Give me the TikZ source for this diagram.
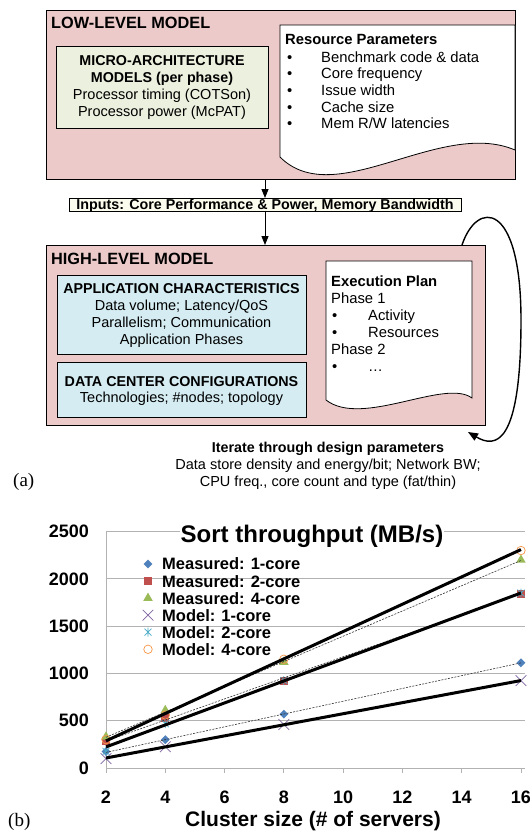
\documentclass[tikz,border=0pt]{standalone}
\usepackage{fontspec}
\setmainfont{Liberation Sans}
\newfontfamily\serifa{Liberation Serif}
\usetikzlibrary{arrows.meta,shapes.geometric,shapes.misc}
\definecolor{pinkbg}{RGB}{236,202,202}
\definecolor{greenbg}{RGB}{236,240,222}
\definecolor{bluebg}{RGB}{212,236,242}
\definecolor{inpbg}{RGB}{252,252,238}
\definecolor{gridc}{RGB}{178,178,178}
\definecolor{cma}{RGB}{79,129,189}
\definecolor{cmb}{RGB}{192,80,77}
\definecolor{cmc}{RGB}{155,187,89}
\definecolor{cxa}{RGB}{128,100,162}
\definecolor{cxb}{RGB}{75,172,198}
\definecolor{cxc}{RGB}{247,150,70}
\tikzset{
  box/.style={draw=black, line width=0.8pt, inner sep=0pt, outer sep=0pt, anchor=north west},
  tx/.style={font=\fontsize{14.5}{17}\selectfont, inner sep=0pt, anchor=base},
  txl/.style={font=\fontsize{14.8}{17}\selectfont, inner sep=0pt, anchor=base west},
  bx/.style={font=\bfseries\fontsize{14.3}{17}\selectfont},
  arr/.style={line width=0.9pt, -{Triangle[length=9pt,width=7pt]}},
  looparr/.style={line width=1.4pt, -{Triangle[length=10pt,width=8pt]}},
  mka/.style={diamond, fill=cma, minimum size=9pt, inner sep=0pt},
  mkb/.style={rectangle, fill=cmb, minimum size=8pt, inner sep=0pt},
  mkc/.style={regular polygon, regular polygon sides=3, fill=cmc, minimum size=11pt, inner sep=0pt},
  mxa/.style={cross out, draw=cxa, line width=0.7pt, minimum size=10pt, inner sep=0pt},
  mxc/.style={circle, draw=cxc, line width=0.7pt, minimum size=8.5pt, inner sep=0pt},
  asterisk/.pic={\draw[cxb, line width=0.7pt] (-3.5pt,-3.5pt)--(3.5pt,3.5pt) (-3.5pt,3.5pt)--(3.5pt,-3.5pt) (0pt,-4.5pt)--(0pt,4.5pt);},
  thick line/.style={line width=3pt, black},
  trend/.style={line width=0.6pt, black!80, dash pattern=on 2pt off 1.3pt},
  tick lab/.style={font=\bfseries\fontsize{18}{20}\selectfont, inner sep=0pt},
  leg/.style={font=\bfseries\fontsize{16.5}{18}\selectfont, inner sep=0pt, anchor=west}
}
\begin{document}
\begin{tikzpicture}[x=1pt, y=-1pt]
\useasboundingbox (0,0) rectangle (530,831);
\fill[white] (0,0) rectangle (530,831);

% ---------------- LOW-LEVEL MODEL ----------------
\node[box, fill=pinkbg, minimum width=469pt, minimum height=169pt] (low) at (46,10) {};
\node[anchor=west, inner sep=0pt, font=\bfseries\fontsize{16.3}{18}\selectfont] (lowt) at (51,23) {LOW-LEVEL MODEL};
\node[box, fill=greenbg, minimum width=212pt, minimum height=82pt] (micro) at (56,46) {};
\node[tx, bx] (mi1) at (162,65) {MICRO-ARCHITECTURE};
\node[tx, bx] (mi2) at (162,82) {MODELS (per phase)};
\node[tx] (mi3) at (162,99.5) {Processor timing (COTSon)};
\node[tx] (mi4) at (162,116) {Processor power (McPAT)};

\draw[fill=white, line width=0.8pt] (280,25) -- (515,25) -- (515,150)
  .. controls (440,118) and (335,212) .. (280,157) -- cycle;
\node[txl, font=\bfseries\fontsize{14.8}{17}\selectfont] (rp) at (285,44) {Resource Parameters};
\foreach \t [count=\i] in {Benchmark code \& data, Core frequency, Issue width, Cache size, Mem R/W latencies}{
  \node[txl] (rb\i) at (287,45.3+16.7*\i) {\textbullet};
  \node[txl] (rt\i) at (321,45.3+16.7*\i) {\t};
}

% ---------------- Inputs ----------------
\node[box, fill=inpbg, minimum width=392pt, minimum height=13pt] (inp) at (69,198) {};
\node[tx, bx] (inpt) at (265,209) {Inputs: Core Performance \& Power, Memory Bandwidth};

% ---------------- HIGH-LEVEL MODEL ----------------
\node[box, fill=pinkbg, minimum width=439pt, minimum height=180pt] (high) at (46,245) {};
\node[anchor=west, inner sep=0pt, font=\bfseries\fontsize{16.3}{18}\selectfont] (hight) at (51,259) {HIGH-LEVEL MODEL};
\node[box, fill=bluebg, minimum width=249pt, minimum height=79pt] (app) at (57,275.5) {};
\node[tx, bx] (ap1) at (181.5,293.5) {APPLICATION CHARACTERISTICS};
\node[tx] (ap2) at (181.5,310.5) {Data volume; Latency/QoS};
\node[tx] (ap3) at (181.5,327.5) {Parallelism; Communication};
\node[tx] (ap4) at (181.5,344.5) {Application Phases};
\node[box, fill=bluebg, minimum width=249pt, minimum height=55pt] (dc) at (57,362) {};
\node[tx, bx] (dc1) at (181.5,386) {DATA CENTER CONFIGURATIONS};
\node[tx] (dc2) at (181.5,402.5) {Technologies; \#nodes; topology};

\draw[fill=white, line width=0.8pt] (326,261) -- (472,261) -- (472,398)
  .. controls (445,378) and (362,428) .. (326,400) -- cycle;
\node[txl, font=\bfseries\fontsize{14.8}{17}\selectfont] (ep) at (331,286.5) {Execution Plan};
\node[txl] (ph1) at (331,303.5) {Phase 1};
\node[txl] (eb1) at (332,320.5) {\textbullet};
\node[txl] (et1) at (368,320.5) {Activity};
\node[txl] (eb2) at (332,337.5) {\textbullet};
\node[txl] (et2) at (368,337.5) {Resources};
\node[txl] (ph2) at (331,354.5) {Phase 2};
\node[txl] (eb3) at (332,371.5) {\textbullet};
\node[txl] (et3) at (368,371.5) {\dots};

% ---------------- connectors ----------------
\draw[arr] (inp.north |- low.south) -- (inp.north);
\draw[arr] (inp.south) -- (inp.south |- high.north);
\coordinate (ls) at (462,245);
\coordinate (le) at (468,432);
\draw[looparr] (ls) .. controls (477,200) and (521,200) .. (521,320)
  .. controls (521,447) and (495,448) .. (le);

\node[tx, bx] (it1) at (328,452.5) {Iterate through design parameters};
\node[tx] (it2) at (328,469.5) {Data store density and energy/bit; Network BW;};
\node[tx] (it3) at (328,486) {CPU freq., core count and type (fat/thin)};
\node[anchor=west, inner sep=0pt, font=\serifa\fontsize{19}{21}\selectfont] (la) at (13,482) {(a)};

% ---------------- chart ----------------
\begin{scope}[shift={(46.72,768)}, x=29.64pt, y=0.09456pt]
  \foreach \v in {500,1000,1500,2000,2500}
    \draw[gridc, line width=0.9pt] (2,\v) -- (16.15,\v);
  \draw[gridc, line width=0.9pt] (2,0) -- (16.15,0);
  \draw[gridc, line width=0.9pt] (2,0) -- (2,2500);
  \foreach \u in {2,4,...,16}
    \draw[gridc, line width=0.9pt] (\u,0) -- (\u,-55);
  \foreach \v in {0,500,1000,1500,2000,2500}
    \node[tick lab, anchor=east] (yl\v) at (1.43,\v) {\v};
  \foreach \u in {2,4,...,16}
    \node[tick lab] (xl\u) at (\u,-308) {\u};
  % markers
  \foreach \a/\b in {2/175,4/300,8/570,16/1112} \node[mka] at (\a,\b) {};
  \foreach \a/\b in {2/290,4/525,8/925,16/1845} \node[mkb] at (\a,\b) {};
  \foreach \a/\b in {2/330,4/610,8/1120,16/2200} \node[mkc] at (\a,\b) {};
  \foreach \a/\b in {2/100,4/225,8/460,16/925} \node[mxa] at (\a,\b) {};
  \foreach \a/\b in {2/175,4/470,8/925,16/1850} \pic at (\a,\b) {asterisk};
  \foreach \a/\b in {2/300,4/560,8/1150,16/2300} \node[mxc] at (\a,\b) {};
  % trend lines
  \draw[trend] (2,165) -- (16,1112);
  \draw[trend] (2,285) -- (16,1845);
  \draw[trend] (2,325) -- (16,2195);
  \draw[thick line] (2,106) -- (16,925);
  \draw[thick line] (2,223) -- (16,1851);
  \draw[thick line] (2,287) -- (16,2310);
\end{scope}

\node[fill=white, inner sep=1pt, font=\bfseries\fontsize{24}{26}\selectfont] (title) at (312,536) {Sort throughput (MB/s)};
\node[mka] (lm1) at (148,564) {};
\node[mkb] (lm2) at (148,581.1) {};
\node[mkc] (lm3) at (148,598.1) {};
\node[mxa] (lm4) at (148,615.2) {};
\pic at (148,632.2) {asterisk};
\node[mxc] (lm6) at (148,649.3) {};
\node[leg] (lt1) at (162,564) {Measured: 1-core};
\node[leg] (lt2) at (162,581.1) {Measured: 2-core};
\node[leg] (lt3) at (162,598.1) {Measured: 4-core};
\node[leg] (lt4) at (162,615.2) {Model: 1-core};
\node[leg] (lt5) at (162,632.2) {Model: 2-core};
\node[leg] (lt6) at (162,649.3) {Model: 4-core};

\node[inner sep=0pt, font=\bfseries\fontsize{21}{23}\selectfont] (xlab) at (313,821) {Cluster size (\# of servers)};
\node[anchor=west, inner sep=0pt, font=\serifa\fontsize{19}{21}\selectfont] (lb) at (8,822) {(b)};
\end{tikzpicture}
\end{document}
